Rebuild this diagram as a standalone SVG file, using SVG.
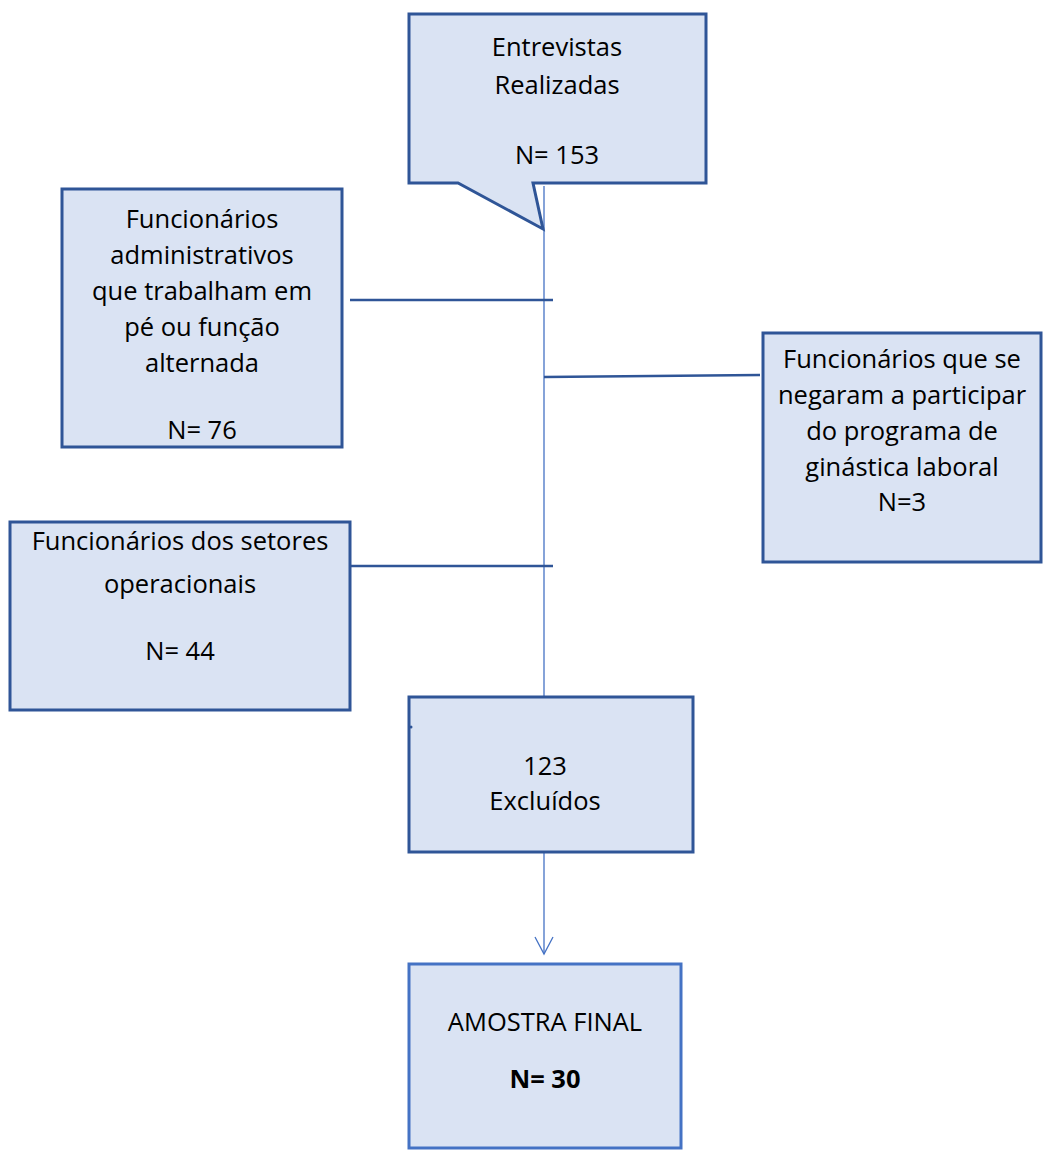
<svg xmlns="http://www.w3.org/2000/svg" width="1043" height="1152" viewBox="0 0 1043 1152">
<style>
.box{fill:#DAE3F3;stroke:#2F5597;stroke-width:3}
.boxl{fill:#DAE3F3;stroke:#4472C4;stroke-width:3}
.t{font-family:"Open Sans","Liberation Sans",sans-serif;font-size:25.5px;fill:#000;text-anchor:middle}
.b{font-weight:bold}
.thin{stroke:#4472C4;stroke-width:1.3;fill:none}
.thick{stroke:#2F5597;stroke-width:2.5;fill:none}
</style>
<rect width="1043" height="1152" fill="#fff"/>
<g id="connectors">
<line class="thin" x1="544" y1="186" x2="544" y2="697"/>
<line class="thick" x1="350" y1="300" x2="553" y2="300"/>
<line class="thick" x1="544" y1="377" x2="760" y2="375"/>
<line class="thick" x1="350" y1="566" x2="553" y2="566"/>
<line class="thin" x1="544" y1="852" x2="544" y2="954"/>
<polyline class="thin" points="535,937 544,954 553,937"/>
</g>
<g id="entrevistas">
<path class="box" d="M409,14 H706 V183 H533 L543,229 L458,183 H409 Z"/>
<text class="t" x="557" y="56">Entrevistas</text>
<text class="t" x="557" y="94">Realizadas</text>
<text class="t" x="557" y="164">N= 153</text>
</g>
<g id="administrativos">
<rect class="box" x="62" y="189" width="280" height="258"/>
<text class="t" x="202" y="228">Funcionários</text>
<text class="t" x="202" y="264">administrativos</text>
<text class="t" x="202" y="300">que trabalham em</text>
<text class="t" x="202" y="336">pé ou função</text>
<text class="t" x="202" y="372">alternada</text>
<text class="t" x="202" y="439">N= 76</text>
</g>
<g id="negaram">
<rect class="box" x="763" y="333" width="278" height="229"/>
<text class="t" x="902" y="368">Funcionários que se</text>
<text class="t" x="902" y="404">negaram a participar</text>
<text class="t" x="902" y="440">do programa de</text>
<text class="t" x="902" y="476">ginástica laboral</text>
<text class="t" x="902" y="511">N=3</text>
</g>
<g id="operacionais">
<rect class="box" x="10" y="522" width="340" height="188"/>
<text class="t" x="180" y="550">Funcionários dos setores</text>
<text class="t" x="180" y="593">operacionais</text>
<text class="t" x="180" y="660">N= 44</text>
</g>
<g id="excluidos">
<rect class="box" x="409" y="697" width="284" height="155"/>
<circle cx="411" cy="727" r="1.5" fill="#2F5597"/>
<text class="t" x="545" y="775">123</text>
<text class="t" x="545" y="810">Excluídos</text>
</g>
<g id="amostra">
<rect class="boxl" x="409" y="964" width="272" height="184"/>
<text class="t" x="545" y="1031">AMOSTRA FINAL</text>
<text class="t b" x="545" y="1088">N= 30</text>
</g>
</svg>
